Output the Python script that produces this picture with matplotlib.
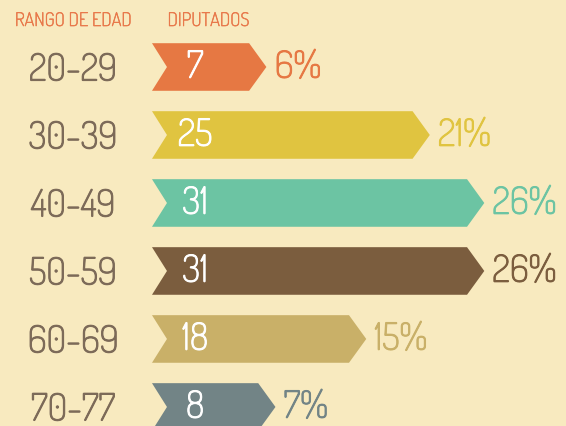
import matplotlib
matplotlib.use('Agg')
import matplotlib.pyplot as plt
import matplotlib.patheffects as pe
from matplotlib.patches import Polygon

# Diputados por rango de edad
age_ranges = ['20-29', '30-39', '40-49', '50-59', '60-69', '70-77']
deputies = [7, 25, 31, 31, 18, 8]
percent_labels = ['6%', '21%', '26%', '26%', '15%', '7%']
colors = ['#E67843', '#E0C440', '#6CC4A3', '#7B5D3E', '#C9B068', '#728486']

BG = '#F8EABF'
LABEL_COLOR = '#7C6A58'
HEAD_COLOR = '#E8784A'
FONT = ['Dosis', 'DejaVu Sans']

# chevron geometry (data units)
HEAD = 5.6      # fixed part of every arrow
NOTCH = 1.65    # depth of the left notch
POINT = 1.9     # depth of the right point
HALF_H = 0.35


def bold(color, width=0.7):
    # the installed Dosis is very thin, so fatten the strokes a bit
    return [pe.withStroke(linewidth=width, foreground=color)]


fig = plt.figure(figsize=(5.66, 4.27), dpi=100)
fig.patch.set_facecolor(BG)
ax = fig.add_axes([0, 0, 1, 1])
ax.set_facecolor(BG)
ax.set_xlim(-16.74, 45.6)
ax.set_ylim(5.28, -1)
ax.axis('off')

for i, (age, val, pct, col) in enumerate(zip(age_ranges, deputies, percent_labels, colors)):
    tip = HEAD + val
    pts = [(0, i - HALF_H), (tip - POINT, i - HALF_H), (tip, i),
           (tip - POINT, i + HALF_H), (0, i + HALF_H), (NOTCH, i)]
    ax.add_patch(Polygon(pts, closed=True, facecolor=col, edgecolor='none'))

    ax.text(-8.7, i + 0.2, age, ha='center', va='baseline', fontsize=27,
            color=LABEL_COLOR, family=FONT, path_effects=bold(LABEL_COLOR))
    ax.text(4.75, i + 0.16, str(val), ha='center', va='baseline', fontsize=27,
            color='white', family=FONT, path_effects=bold('white'))
    ax.text(tip + 0.9, i + 0.16, pct, ha='left', va='baseline', fontsize=27,
            color=col, family=FONT, path_effects=bold(col))

ax.text(-8.7, -0.676, 'RANGO DE EDAD', ha='center', va='center', fontsize=13.5,
        color=HEAD_COLOR, family=FONT, path_effects=bold(HEAD_COLOR, 0.4))
ax.text(6.2, -0.676, 'DIPUTADOS', ha='center', va='center', fontsize=13.5,
        color=HEAD_COLOR, family=FONT, path_effects=bold(HEAD_COLOR, 0.4))

fig.savefig('out.png', dpi=100, facecolor=BG)
plt.close(fig)
